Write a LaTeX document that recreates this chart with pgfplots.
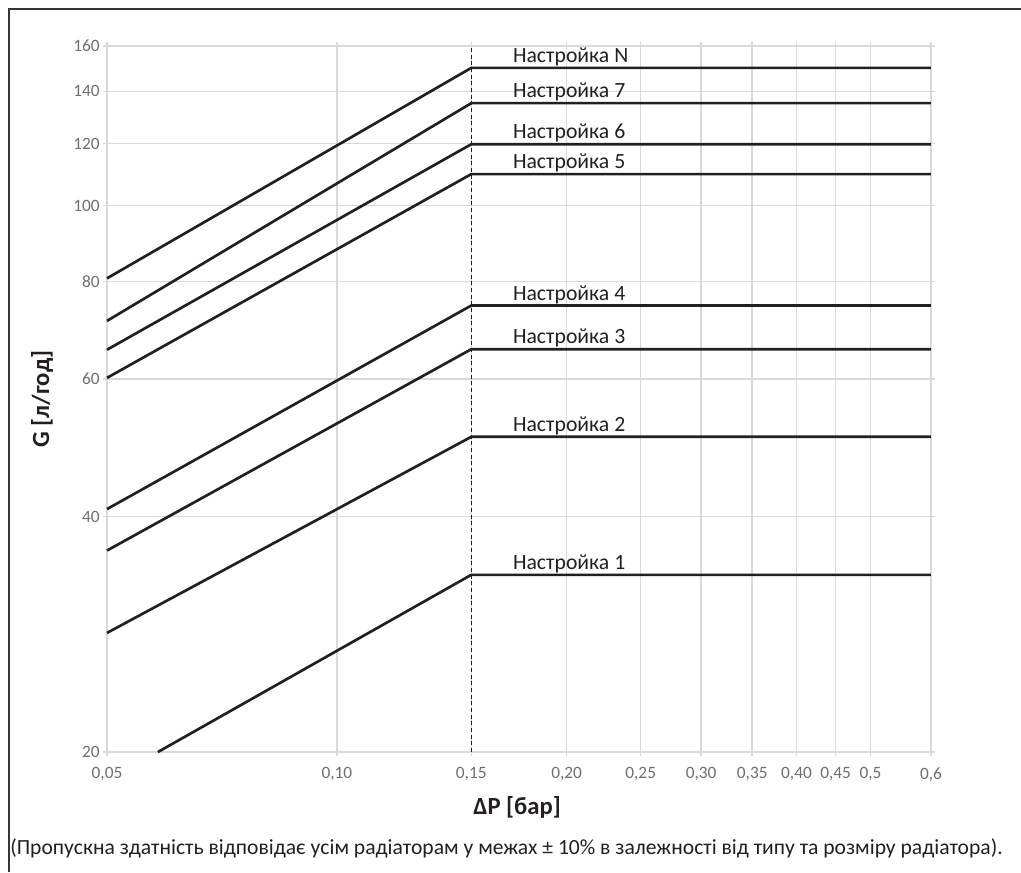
\documentclass[border=0pt]{standalone}
\usepackage{fontspec}
\setmainfont{Carlito}
\usepackage{pgfplots}
\pgfplotsset{compat=1.18}
\definecolor{ink}{HTML}{231F20}
\definecolor{gridc}{HTML}{D9D9D9}
\definecolor{tickc}{HTML}{6D6E71}
\begin{document}
\begin{tikzpicture}
\useasboundingbox (0,0) rectangle (765.75pt,-654pt);
\draw[ink!90, line width=1.2pt] (6.75pt,-654pt) -- (6.75pt,-6.75pt) -- (765.75pt,-6.75pt);
\begin{axis}[
  at={(80.25pt,-564pt)}, anchor=south west,
  scale only axis, width=618pt, height=529.5pt,
  xmode=log, ymode=log,
  xmin=0.05, xmax=0.6, ymin=20, ymax=160,
  xtick={0.05,0.1,0.15,0.2,0.25,0.3,0.35,0.4,0.45,0.5,0.6},
  xticklabels={{0,05},{0,10},{0,15},{0,20},{0,25},{0,30},{0,35},{0,40},{0,45},{0,5},{0,6}},
  ytick={20,40,60,80,100,120,140,160},
  yticklabels={20,40,60,80,100,120,140,160},
  xminorticks=false, yminorticks=false,
  grid=major, major grid style={gridc, line width=1.1pt},
  axis line style={gridc, line width=1.1pt},
  tick align=outside, major tick length=3pt,
  tick style={gridc, line width=1.1pt},
  ticklabel style={font=\fontsize{13}{15}\selectfont, text=tickc},
  yticklabel style={xshift=1pt},
  xticklabel style={yshift=-5pt},
  clip=false,
]
\addplot[ink, line width=0.8pt, dash pattern=on 3pt off 2pt] coordinates {(0.15,20) (0.15,160)};
\addplot[ink, line width=2pt] coordinates {(0.05,80.7) (0.15,150) (0.6,150)};
\addplot[ink, line width=2pt] coordinates {(0.05,71.2) (0.15,135.2) (0.6,135.2)};
\addplot[ink, line width=2pt] coordinates {(0.05,65.4) (0.15,119.8) (0.6,119.8)};
\addplot[ink, line width=2pt] coordinates {(0.05,60.2) (0.15,109.7) (0.6,109.7)};
\addplot[ink, line width=2pt] coordinates {(0.05,40.9) (0.15,74.5) (0.6,74.5)};
\addplot[ink, line width=2pt] coordinates {(0.05,36.2) (0.15,65.5) (0.6,65.5)};
\addplot[ink, line width=2pt] coordinates {(0.05,28.4) (0.15,50.6) (0.6,50.6)};
\addplot[ink, line width=2pt] coordinates {(0.0583,20) (0.15,33.7) (0.6,33.7)};
\begin{scope}[every node/.style={anchor=base west, inner sep=0pt, text=ink, font=\fontsize{16.3}{19}\selectfont, yshift=4pt}]
\node at (axis cs:0.170,150) {Настройка N};
\node at (axis cs:0.170,135.2) {Настройка 7};
\node at (axis cs:0.170,119.8) {Настройка 6};
\node at (axis cs:0.170,109.7) {Настройка 5};
\node at (axis cs:0.170,74.5) {Настройка 4};
\node at (axis cs:0.170,65.5) {Настройка 3};
\node at (axis cs:0.170,50.6) {Настройка 2};
\node at (axis cs:0.170,33.7) {Настройка 1};
\end{scope}
\end{axis}
\node[anchor=base west, inner sep=0pt, text=ink, font=\bfseries\fontsize{18.5}{21}\selectfont] at (354.75pt,-611pt) {ΔP [бар]};
\node[anchor=center, inner sep=0pt, rotate=90, text=ink, font=\bfseries\fontsize{18.5}{21}\selectfont] at (31.5pt,-299.25pt) {G [л/год]};
\node[anchor=base west, inner sep=0pt, text=ink, font=\fontsize{16.2}{19}\selectfont] at (7.5pt,-641pt) {(Пропускна здатність відповідає усім радіаторам у межах ± 10\% в залежності від типу та розміру радіатора).};
\end{tikzpicture}
\end{document}
